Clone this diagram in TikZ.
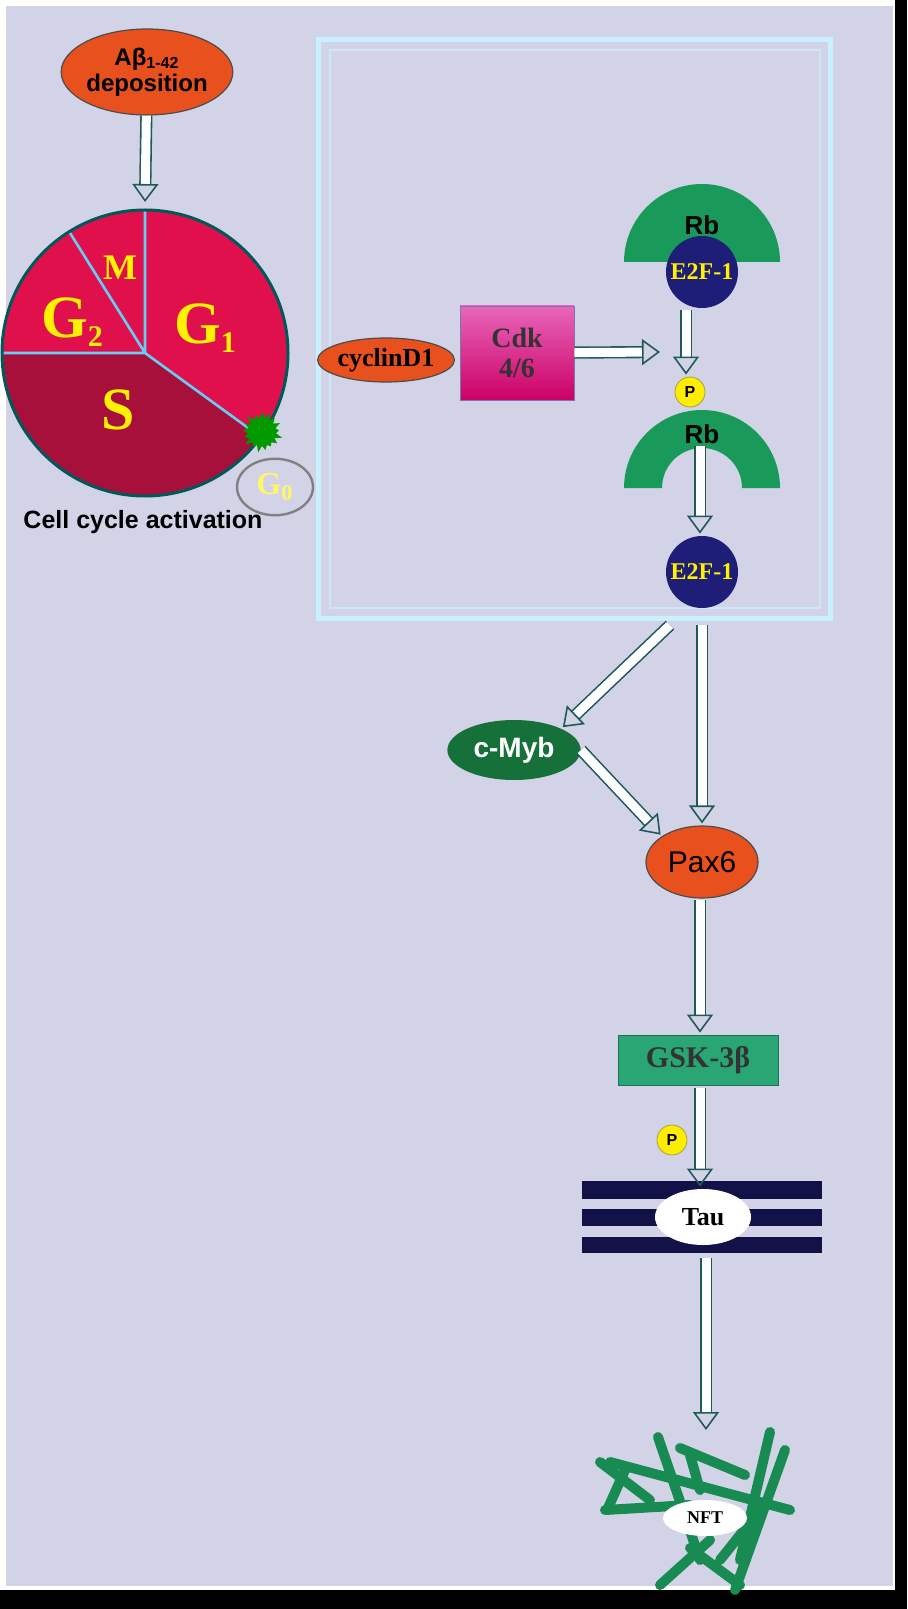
\documentclass[tikz,border=0pt]{standalone}
\usepackage{amsmath}
\usepackage{fontspec}
\setmainfont{Liberation Serif}
\newfontfamily\sansf{Liberation Sans}
\usetikzlibrary{positioning, arrows.meta, shapes.geometric, shapes.symbols}
\definecolor{bgcol}{HTML}{D3D3E8}
\definecolor{orng}{HTML}{E8501E}
\definecolor{pinkred}{HTML}{E0104C}
\definecolor{darkred}{HTML}{A8103C}
\definecolor{navy}{HTML}{1E1E78}
\definecolor{rbgreen}{HTML}{1A9A5A}
\definecolor{mybgreen}{HTML}{16703A}
\definecolor{gskgreen}{HTML}{2AA574}
\definecolor{arrcol}{HTML}{1E5A5A}
\definecolor{framecol}{HTML}{C8F0FF}
\tikzset{
  hollow/.style={draw=arrcol, double=white, double distance=4.5pt, line width=0.8pt,
    -{Triangle[open, length=9pt, width=13pt, line width=0.8pt]}, shorten >=1pt},
  blob/.style={ellipse, draw=black!70, line width=0.6pt, inner sep=0pt},
  phos/.style={circle, fill=yellow!95!orange, draw=yellow!60!black, minimum size=15pt,
    inner sep=0pt, font=\sansf\bfseries\fontsize{8}{8}\selectfont},
  efactor/.style={circle, fill=navy, minimum size=36pt, inner sep=0pt,
    text=yellow, font=\bfseries\fontsize{12}{12}\selectfont},
  phase/.style={text=yellow, font=\bfseries\fontsize{30}{30}\selectfont},
}
\newcommand{\sub}[1]{\raisebox{-0.35ex}{\fontsize{15}{15}\selectfont #1}}
\begin{document}
\begin{tikzpicture}[x=0.5pt, y=-0.5pt]
    % Background and frame
    \useasboundingbox (0,0) rectangle (907,1609);
    \fill[white] (0,0) rectangle (907,1609);
    \fill[black] (0,1590) rectangle (907,1609);
    \fill[black] (895,0) rectangle (907,1609);
    \fill[bgcol] (6,6) rectangle (893,1586);

    % Amyloid deposition and the cell cycle wheel
    \node[blob, fill=orng, minimum width=83pt, minimum height=43pt, align=center,
      font=\sansf\bfseries\fontsize{12}{13}\selectfont] (abeta) at (147,72)
      {Aβ\textsubscript{1-42}\\deposition};
    \coordinate (cc) at (145,353);
    \coordinate (wheeltop) at (145,204);
    \fill[pinkred] (cc) -- ++(-90:142) arc[start angle=-90, end angle=36, radius=142] -- cycle;
    \fill[pinkred] (cc) -- ++(-180:142) arc[start angle=-180, end angle=-90, radius=142] -- cycle;
    \fill[darkred] (cc) -- ++(36:142) arc[start angle=36, end angle=180, radius=142] -- cycle;
    \draw[cyan!60!white, line width=1.3pt] (cc) -- ++(-90:142) (cc) -- ++(-122:142)
      (cc) -- ++(-180:142) (cc) -- ++(36:142);
    \draw[teal!70!black, line width=1.5pt] (cc) circle[radius=143];
    \node[phase] (g1) at (205,328) {G\sub{1}};
    \node[phase, font=\bfseries\fontsize{18}{18}\selectfont] (m) at (120,268) {M};
    \node[phase] (g2) at (72,322) {G\sub{2}};
    \node[phase] (s) at (118,410) {S};
    \node[starburst, starburst points=17, starburst point height=4pt, fill=green!60!black,
      minimum size=22pt, inner sep=0pt] (burst) at (262,432) {};
    \node[ellipse, draw=gray, line width=1.2pt, minimum width=38pt, minimum height=28pt,
      text=yellow!60, font=\bfseries\fontsize{16}{16}\selectfont] (g0) at (275,487) {G\textsubscript{0}};
    \node[font=\sansf\bfseries\fontsize{12.5}{13}\selectfont] (ccact) at (143,522) {Cell cycle activation};
    \draw[hollow] (abeta) -- (wheeltop);

    % Rb / E2F-1 box
    \draw[framecol, line width=2.5pt] (318,40) rectangle (830,618);
    \draw[framecol!70!bgcol, line width=1pt] (330,50) rectangle (820,608);
    \node[blob, fill=orng, minimum width=60pt, minimum height=22pt,
      font=\bfseries\fontsize{13}{13}\selectfont] (cyclin) at (386,360) {cyclinD1};
    \node[draw=navy!60, top color=purple!60!magenta!60, bottom color=purple!80!magenta,
      minimum width=57pt, minimum height=47pt, align=center, text=black!80,
      font=\bfseries\fontsize{14}{15}\selectfont] (cdk) at (517,353) {Cdk\\4/6};
    \coordinate (cdkend) at (662,352);
    \draw[hollow] (cdk) -- (cdkend);
    \fill[rbgreen] (624,262) arc[start angle=180, end angle=360, radius=78]
      -- (722,262) arc[start angle=360, end angle=180, radius=20] -- cycle;
    \node[font=\sansf\bfseries\fontsize{13}{13}\selectfont] (rbtop) at (702,225) {Rb};
    \node[efactor] (efa) at (702,272) {E2F-1};
    \node[phos] (pa) at (690,392) {P};
    \fill[rbgreen] (624,488) arc[start angle=180, end angle=360, radius=78]
      -- (742,488) arc[start angle=360, end angle=180, radius=40] -- cycle;
    \node[font=\sansf\bfseries\fontsize{13}{13}\selectfont] (rbbot) at (702,434) {Rb};
    \node[efactor] (efb) at (702,572) {E2F-1};
    \coordinate (efaout) at (686,310);
    \draw[hollow] (efaout) -- (pa.north -| efaout);
    \coordinate (rbmid) at (700,446);
    \draw[hollow] (rbmid) -- (efb.north -| rbmid);

    % Downstream cascade
    \node[ellipse, fill=mybgreen, minimum width=48pt, minimum height=30pt, text=white,
      font=\sansf\bfseries\fontsize{14}{14}\selectfont] (cmyb) at (514,750) {c-Myb};
    \node[blob, fill=orng, minimum width=56pt, minimum height=36pt,
      font=\sansf\fontsize{15}{15}\selectfont] (pax) at (702,862) {Pax6};
    \coordinate (efbleft) at (670,625);
    \coordinate (efbdown) at (702,625);
    \draw[hollow] (efbleft) -- (cmyb.north east);
    \draw[hollow] (efbdown) -- (pax.north);
    \draw[hollow] (cmyb.east) -- (pax.north west);
    \node[fill=gskgreen, draw=gskgreen!70!black, minimum width=80pt, minimum height=25pt,
      text=black!80, font=\bfseries\fontsize{15}{15}\selectfont] (gsk) at (698,1060) {GSK-3β};
    \coordinate (paxout) at (700,900);
    \draw[hollow] (paxout) -- (gsk.north -| paxout);
    \node[phos] (pb) at (672,1140) {P};

    % Tau on microtubules
    \foreach \yy/\hh in {1181/18, 1209/17, 1237/16}
      \fill[navy!60!black] (582,\yy) rectangle (822,\yy+\hh);
    \node[ellipse, fill=white, minimum width=48pt, minimum height=28pt,
      font=\bfseries\fontsize{13}{13}\selectfont] (tau) at (703,1217) {Tau};
    \coordinate (gskout) at (700,1088);
    \draw[hollow] (gskout) -- (tau.north -| gskout);

    % Tangles
    \coordinate (nftc) at (705,1518);
    \foreach \ax/\ay/\bx/\by in {600/1462/650/1500, 610/1462/790/1510, 658/1437/700/1560,
      680/1448/745/1475, 770/1432/740/1560, 785/1450/735/1590, 605/1510/690/1505,
      608/1508/625/1470, 660/1585/710/1540, 690/1548/740/1585, 760/1510/720/1560, 690/1455/700/1490}
      \draw[rbgreen!90!black, line width=5pt, line cap=round] (\ax,\ay) -- (\bx,\by);
    \node[ellipse, fill=white, minimum width=42pt, minimum height=18pt,
      font=\bfseries\fontsize{9}{9}\selectfont] (nft) at (nftc) {NFT};
    \coordinate (tauout) at (706,1258);
    \coordinate (nftin) at (706,1432);
    \draw[hollow] (tauout) -- (nftin);
\end{tikzpicture}
\end{document}
